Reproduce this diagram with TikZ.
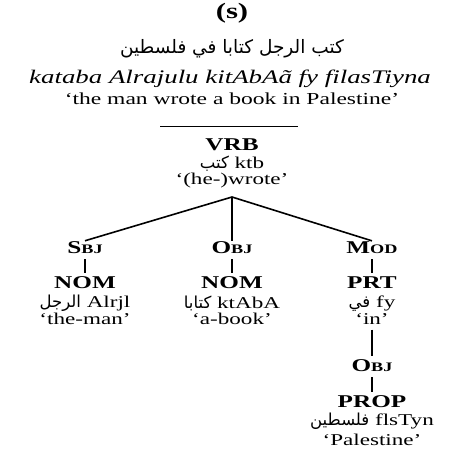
\documentclass[tikz,border=0pt]{standalone}
\usepackage{fontspec}
\setmainfont{Liberation Serif}[FakeStretch=1.4]
\newfontfamily\arabicfont[Script=Arabic]{DejaVu Sans}
\TeXXeTstate=1
\newcommand{\ar}[1]{{\arabicfont\beginR #1\endR}}
\newcommand{\smc}[2]{#1{\fontsize{13}{15}\selectfont #2}}

\begin{document}
\begin{tikzpicture}[x=1pt,y=-1pt,
  txt/.style={inner sep=1pt,font=\fontsize{16.5}{18}\selectfont},
  cat/.style={inner sep=1pt,font=\bfseries\fontsize{18}{20}\selectfont},
  arc/.style={line width=1.6pt}]
\useasboundingbox (0,0) rectangle (464,448);

\node[inner sep=1pt,font=\bfseries\fontsize{22}{24}\selectfont] (title) at (232,13) {(s)};
\node[txt,font=\fontsize{18.5}{20}\selectfont] (sent) at (232,49) {\ar{كتب الرجل كتابا في فلسطين}};
\node[txt,font=\fontsize{19.2}{21}\selectfont] (translit) at (230,79) {\textit{kataba Alrajulu kitAbAã fy filasTiyna}};
\node[txt,font=\fontsize{16.8}{18}\selectfont] (transl) at (232,99) {`the man wrote a book in Palestine'};
\coordinate (barL) at (160,126);
\coordinate (barR) at (298,126);
\draw[line width=0.8pt] (barL) -- (barR);

% head
\node[cat] (vrb) at (232,145) {VRB};
\node[txt] (vrbw) at (232,164) {\ar{كتب} ktb};
\node[txt] (vrbg) at (232,181) {`(he-)wrote'};
\coordinate (fork) at (232,197);

% dependents
\node[cat] (sbj) at (85,248) {\smc{S}{BJ}};
\node[cat] (obj) at (232,248) {\smc{O}{BJ}};
\node[cat] (mod) at (372,248) {\smc{M}{OD}};
\foreach \n in {sbj,obj,mod}
  \draw[arc] (fork) -- (\n.north);

\node[cat] (nom1) at (85,283) {NOM};
\node[txt] (nom1w) at (85,303) {\ar{الرجل} Alrjl};
\node[txt] (nom1g) at (85,319) {`the-man'};

\node[cat] (nom2) at (232,283) {NOM};
\node[txt] (nom2w) at (232,303) {\ar{كتابا} ktAbA};
\node[txt] (nom2g) at (232,319) {`a-book'};

\node[cat] (prt) at (372,283) {PRT};
\node[txt] (prtw) at (372,304) {\ar{في} fy};
\node[txt] (prtg) at (372,319) {`in'};

\node[cat] (pobj) at (372,366) {\smc{O}{BJ}};
\node[cat] (prop) at (372,402) {PROP};
\node[txt] (propw) at (372,421) {\ar{فلسطين} flsTyn};
\node[txt] (propg) at (372,440) {`Palestine'};

\foreach \a/\b in {sbj/nom1,obj/nom2,mod/prt,prtg/pobj,pobj/prop}
  \draw[arc,shorten <=4pt,shorten >=3pt] (\a.south) -- (\b.north);
\end{tikzpicture}
\end{document}
